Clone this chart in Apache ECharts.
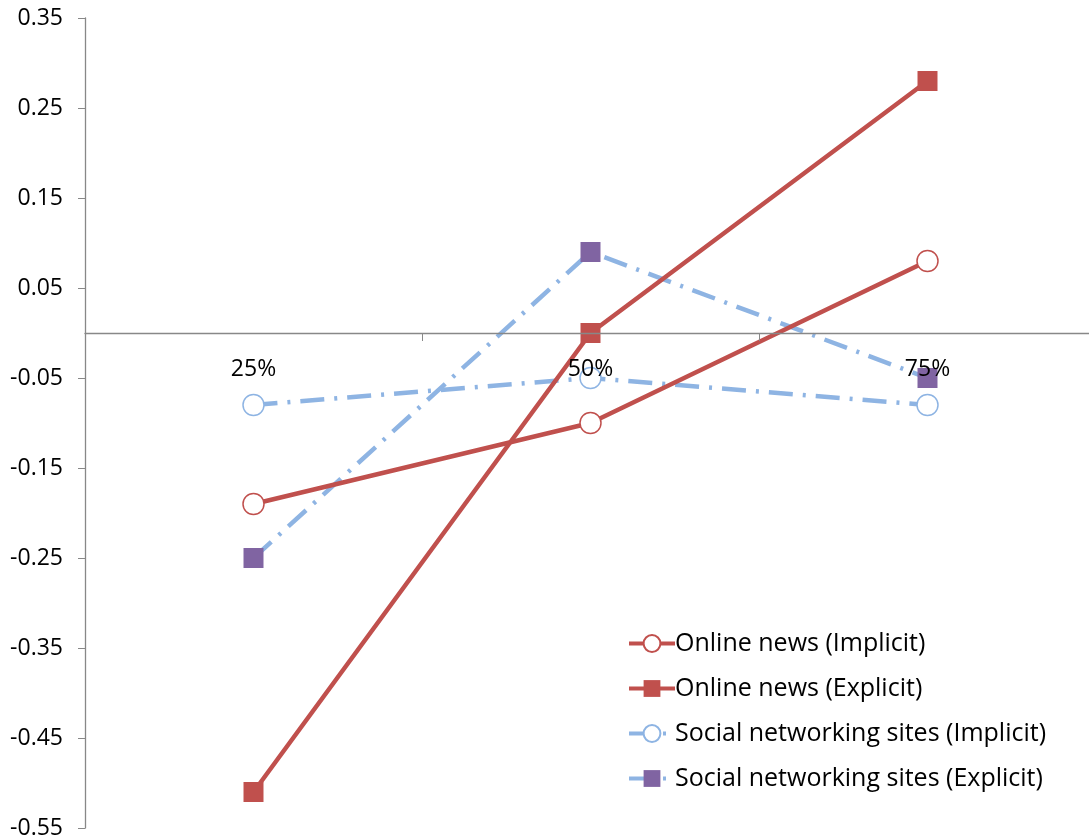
<!DOCTYPE html>
<html>
<head>
<meta charset="utf-8">
<script src="https://cdn.jsdelivr.net/npm/echarts@6/dist/echarts.min.js"></script>
<style>html,body{margin:0;padding:0;background:#fff}#c{width:1089px;height:839px}</style>
</head>
<body>
<div id="c"></div>
<script>
const categories = ['25%', '50%', '75%'];
const onlineImplicit = [-0.19, -0.10, 0.08];
const onlineExplicit = [-0.51, 0.00, 0.28];
const socialImplicit = [-0.08, -0.05, -0.08];
const socialExplicit = [-0.25, 0.09, -0.05];
const seriesNames = ['Online news (Implicit)', 'Online news (Explicit)', 'Social networking sites (Implicit)', 'Social networking sites (Explicit)'];

const RED = '#C0504D', BLUE = '#8EB4E3', PURPLE = '#8064A2';
const FONT = 'Open Sans';
const dashDot = [24, 10, 3, 10];

const chart = echarts.init(document.getElementById('c'));
chart.setOption({
  animation: false,
  backgroundColor: '#fff',
  textStyle: { fontFamily: FONT },
  grid: { left: 85, top: 18, right: -7, bottom: 11, containLabel: false, outerBoundsMode: 'none' },
  legend: {
    orient: 'vertical', left: 622, top: 626,
    itemWidth: 46, itemHeight: 21, itemGap: 20,
    lineStyle: { width: 4 },
    textStyle: { fontSize: 25, color: '#000', fontFamily: FONT, padding: [0,0,0,-5] },
    data: seriesNames
  },
  xAxis: {
    type: 'category', data: categories, boundaryGap: true, z: 10,
    axisLine: { onZero: false, lineStyle: { color: '#888', width: 1.3 } },
    axisTick: { show: true, length: 8, inside: false, lineStyle: { color: '#888' } },
    axisLabel: { fontSize: 23, color: '#000', margin: 25, fontFamily: FONT },
    splitLine: { show: false }
  },
  yAxis: {
    type: 'value', min: -0.55, max: 0.35, interval: 0.1,
    axisLine: { show: true, lineStyle: { color: '#888', width: 1.3 } },
    axisTick: { show: true, length: 7, lineStyle: { color: '#888' } },
    axisLabel: { fontSize: 23, color: '#000', margin: 22, fontFamily: FONT,
      formatter: v => (Math.round(v * 100) / 100).toFixed(2) },
    splitLine: { show: false }
  },
  series: [
    { name: seriesNames[0], type: 'line', data: onlineImplicit, symbol: 'circle', symbolSize: 21,
      lineStyle: { color: RED, width: 4.5 }, itemStyle: { color: '#fff', borderColor: RED, borderWidth: 1.5 } , z: 3},
    { name: seriesNames[1], type: 'line', data: onlineExplicit, symbol: 'rect', symbolSize: 20,
      lineStyle: { color: RED, width: 4.5 }, itemStyle: { color: RED, borderColor: RED, borderWidth: 0 }, z: 3 },
    { name: seriesNames[2], type: 'line', data: socialImplicit, symbol: 'circle', symbolSize: 21,
      lineStyle: { color: BLUE, width: 4.5, type: dashDot }, itemStyle: { color: '#fff', borderColor: BLUE, borderWidth: 1.5 }, z: 2 },
    { name: seriesNames[3], type: 'line', data: socialExplicit, symbol: 'rect', symbolSize: 20,
      lineStyle: { color: BLUE, width: 4.5, type: dashDot }, itemStyle: { color: PURPLE, borderColor: PURPLE, borderWidth: 0 }, z: 2 }
  ]
});
// move the category axis onto y = 0, using the value axis scale
const yZero = chart.convertToPixel({ yAxisIndex: 0 }, 0);
const yBottom = chart.convertToPixel({ yAxisIndex: 0 }, -0.55);
chart.setOption({ xAxis: { offset: -(yBottom - yZero) } });
</script>
</body>
</html>
